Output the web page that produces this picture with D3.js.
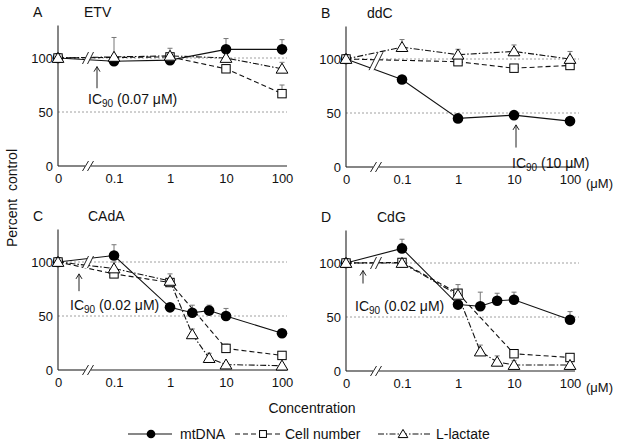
<!DOCTYPE html>
<html><head><meta charset="utf-8">
<script src="https://cdn.jsdelivr.net/npm/d3@7"></script>
<style>
body{margin:0;background:#fff}
text{font-family:"Liberation Sans",Arial,Helvetica,sans-serif;fill:#111}
</style>
</head><body>
<svg id="chart" width="621" height="445"></svg>
<script>
// ---------- data ----------
const xTickValues = [0, 0.1, 1, 10, 100];
const xTickLabels = ["0", "0.1", "1", "10", "100"];
const yTickValues = [0, 50, 100];
const seriesNames = ["mtDNA", "Cell number", "L-lactate"];
const panelLetters = ["A", "B", "C", "D"];
const drugNames = ["ETV", "ddC", "CAdA", "CdG"];
const icLabels = ["(0.07 μM)", "(10 μM)", "(0.02 μM)", "(0.02 μM)"];

// A: ETV
const etvMtConc = [0, 0.1, 1, 10, 100];
const etvMt = [100, 97, 98, 108, 108];
const etvMtErr = [null, null, null, 118, 117];
const etvCellConc = [0, 1, 10, 100];
const etvCell = [100, 101, 90, 67];
const etvCellErr = [null, null, null, 75];
const etvLacConc = [0, 0.1, 1, 10, 100];
const etvLac = [100, 101, 102, 100, 90];
const etvLacErr = [null, 119, 109, null, 96];

// B: ddC
const ddcMtConc = [0, 0.1, 1, 10, 100];
const ddcMt = [100, 81, 45, 48, 42.5];
const ddcMtErr = [null, null, null, null, null];
const ddcCellConc = [0, 1, 10, 100];
const ddcCell = [100, 97.5, 91.5, 94];
const ddcCellErr = [null, null, null, null];
const ddcLacConc = [0, 0.1, 1, 10, 100];
const ddcLac = [100, 111, 104, 107, 100];
const ddcLacErr = [null, 118, 109, 113, 107];

// C: CAdA
const cadaMtConc = [0, 0.1, 1, 2.5, 5, 10, 100];
const cadaMt = [100, 106, 58, 53, 55, 50, 34];
const cadaMtErr = [null, 116, null, 60, 60, 57, null];
const cadaCellConc = [0, 0.1, 1, 10, 100];
const cadaCell = [100, 89, 81, 20, 13.5];
const cadaCellErr = [null, null, null, 24, 17];
const cadaLacConc = [0, 0.1, 1, 2.5, 5, 10, 100];
const cadaLac = [100, 94, 82.5, 33, 11, 5, 4];
const cadaLacErr = [null, 100, 89, 38, 15.5, null, null];

// D: CdG
const cdgMtConc = [0, 0.1, 1, 2.5, 5, 10, 100];
const cdgMt = [100, 113.5, 61.5, 60, 65, 66, 47.5];
const cdgMtErr = [null, 122, null, 73, 72, 73, 55];
const cdgCellConc = [0, 0.1, 1, 10, 100];
const cdgCell = [100, 100.5, 72, 16, 12.5];
const cdgCellErr = [null, null, null, null, null];
const cdgLacConc = [0, 0.1, 1, 2.5, 5, 10, 100];
const cdgLac = [100, 100, 70.5, 18, 8.5, 5.5, 5.5];
const cdgLacErr = [null, null, 80, 24, 14, 9.5, 9];

// ---------- layout ----------
const svg = d3.select("#chart");
const font = '"Liberation Sans",Arial,Helvetica,sans-serif';
const W = 224;        // width from 0 to 100
const axisExt = 229;  // axis line length
const nameOffsets = [26, 21, 30, 31];
const panels = [
  {x0: 58, yb: 166, unit: false, series: [[etvMtConc, etvMt, etvMtErr], [etvCellConc, etvCell, etvCellErr], [etvLacConc, etvLac, etvLacErr]],
   ic: {ax: 39, ay1: 72, ay2: 92, tx: 30, ty: 104}},
  {x0: 346, yb: 167, unit: true, series: [[ddcMtConc, ddcMt, ddcMtErr], [ddcCellConc, ddcCell, ddcCellErr], [ddcLacConc, ddcLac, ddcLacErr]],
   ic: {ax: 170, ay1: 18, ay2: 39, tx: 166, ty: 168}},
  {x0: 58, yb: 370, unit: false, series: [[cadaMtConc, cadaMt, cadaMtErr], [cadaCellConc, cadaCell, cadaCellErr], [cadaLacConc, cadaLac, cadaLacErr]],
   ic: {ax: 21, ay1: 73, ay2: 89, tx: 12, ty: 310}},
  {x0: 346, yb: 371, unit: true, series: [[cdgMtConc, cdgMt, cdgMtErr], [cdgCellConc, cdgCell, cdgCellErr], [cdgLacConc, cdgLac, cdgLacErr]],
   ic: {ax: 17, ay1: 81, ay2: 93, tx: 9, ty: 311}}
];
const dashes = [null, "5,3", "6,2,1.5,2"];

function marker(g, type, cx, cy, scale) {
  const s = scale || 1;
  if (type === 0) {
    g.append("circle").attr("cx", cx).attr("cy", cy).attr("r", 5.3 * s).attr("fill", "#000");
  } else if (type === 1) {
    const h = 4.2 * s;
    g.append("rect").attr("x", cx - h).attr("y", cy - h).attr("width", 2 * h).attr("height", 2 * h)
      .attr("fill", "#fff").attr("stroke", "#000").attr("stroke-width", 1);
  } else {
    const a = 5.6 * s;
    g.append("path").attr("d", `M${cx},${cy - a}L${cx + a * 1.05},${cy + a * 0.78}L${cx - a * 1.05},${cy + a * 0.78}Z`)
      .attr("fill", "#fff").attr("stroke", "#000").attr("stroke-width", 1);
  }
}

panels.forEach((p, i) => {
  const g = svg.append("g");
  const xs = d3.scaleLog().domain([0.01, 100]).range([p.x0, p.x0 + W]);
  const x = c => xs(c === 0 ? 0.01 : c);
  const y = d3.scaleLinear().domain([0, 130]).range([p.yb, p.yb - 140.4]);
  const xBreak = p.x0 + 30;

  // reference dotted lines
  [100, 50].forEach(v => {
    g.append("line").attr("x1", p.x0).attr("x2", p.x0 + axisExt + (p.unit ? 4 : 0))
      .attr("y1", y(v)).attr("y2", y(v))
      .attr("stroke", "#888").attr("stroke-width", 0.8).attr("stroke-dasharray", "2,2");
  });

  // y axis
  const yAxis = d3.axisLeft(y).tickValues(yTickValues).tickSize(0).tickPadding(5).tickFormat(d3.format("d"));
  const ya = g.append("g").attr("transform", `translate(${p.x0},0)`).call(yAxis);
  ya.select(".domain").remove();
  ya.selectAll("text").attr("font-size", 13).attr("font-family", font).attr("fill", "#111");
  g.append("line").attr("x1", p.x0).attr("x2", p.x0).attr("y1", p.yb).attr("y2", y(130))
    .attr("stroke", "#222").attr("stroke-width", 1.1);

  // x axis
  const xAxis = d3.axisBottom(xs).tickValues(xTickValues.map(v => v === 0 ? 0.01 : v)).tickSize(0).tickPadding(8)
    .tickFormat((d, k) => xTickLabels[k]);
  const xa = g.append("g").attr("transform", `translate(0,${p.yb})`).call(xAxis);
  xa.select(".domain").remove();
  xa.selectAll("text").attr("font-size", 13).attr("font-family", font).attr("fill", "#111");
  g.append("line").attr("x1", p.x0).attr("x2", xBreak - 3).attr("y1", p.yb).attr("y2", p.yb)
    .attr("stroke", "#222").attr("stroke-width", 1.1);
  g.append("line").attr("x1", xBreak + 3).attr("x2", p.x0 + axisExt).attr("y1", p.yb).attr("y2", p.yb)
    .attr("stroke", "#222").attr("stroke-width", 1.1);
  [-2.5, 2.5].forEach(o => {
    g.append("line").attr("x1", xBreak + o - 3).attr("y1", p.yb + 5).attr("x2", xBreak + o + 3).attr("y2", p.yb - 5)
      .attr("stroke", "#222").attr("stroke-width", 1);
  });
  if (p.unit) {
    g.append("text").attr("x", x(100) + 16).attr("y", p.yb + 20.5).attr("font-size", 13).text("(μM)");
  }

  // panel letter and drug name
  g.append("text").attr("x", p.x0 - 25).attr("y", p.yb - 149).attr("font-size", 14).text(panelLetters[i]);
  g.append("text").attr("x", p.x0 + nameOffsets[i]).attr("y", p.yb - 149)
    .attr("font-size", 14).text(drugNames[i]);

  // series lines
  const line = d3.line().x(d => x(d.c)).y(d => y(d.v));
  p.series.forEach((s, k) => {
    const pts = s[0].map((c, j) => ({c: c, v: s[1][j]}));
    g.append("path").attr("d", line(pts)).attr("fill", "none").attr("stroke", "#111")
      .attr("stroke-width", 1.1).attr("stroke-dasharray", dashes[k]);
  });

  // break marks on data lines
  const by = y(i === 1 ? 98 : 100);
  const bl = i === 1 ? 9 : 6;
  g.append("path").attr("d", `M${xBreak - 2.5 - bl * 0.5},${by + bl}L${xBreak + 2.5 - bl * 0.5},${by + bl}L${xBreak + 2.5 + bl * 0.5},${by - bl}L${xBreak - 2.5 + bl * 0.5},${by - bl}Z`)
    .attr("fill", "#fff");
  [-2.5, 2.5].forEach(o => {
    g.append("line").attr("x1", xBreak + o - bl * 0.5).attr("y1", by + bl).attr("x2", xBreak + o + bl * 0.5).attr("y2", by - bl)
      .attr("stroke", "#222").attr("stroke-width", 1);
  });

  // error bars
  p.series.forEach((s, k) => {
    s[0].forEach((c, j) => {
      const e = s[2][j];
      if (e == null) return;
      const cx = x(c);
      g.append("line").attr("x1", cx).attr("x2", cx).attr("y1", y(s[1][j])).attr("y2", y(e))
        .attr("stroke", "#777").attr("stroke-width", 1);
      g.append("line").attr("x1", cx - 2.5).attr("x2", cx + 2.5).attr("y1", y(e)).attr("y2", y(e))
        .attr("stroke", "#777").attr("stroke-width", 1);
    });
  });

  // markers (circles, squares, triangles on top)
  p.series.forEach((s, k) => {
    s[0].forEach((c, j) => marker(g, k, x(c), y(s[1][j])));
  });

  // IC90 annotation
  const ax = p.x0 + p.ic.ax;
  const ay1 = y(p.ic.ay1), ay2 = y(p.ic.ay2);
  g.append("line").attr("x1", ax).attr("x2", ax).attr("y1", ay1).attr("y2", ay2).attr("stroke", "#222").attr("stroke-width", 1);
  g.append("path").attr("d", `M${ax - 3},${ay2 + 5}L${ax},${ay2}L${ax + 3},${ay2 + 5}`).attr("fill", "none")
    .attr("stroke", "#222").attr("stroke-width", 1);
  const t = g.append("text").attr("x", p.x0 + p.ic.tx).attr("y", p.ic.ty).attr("font-size", 14);
  t.append("tspan").text("IC");
  t.append("tspan").attr("font-size", 10).attr("dy", 3).text("90");
  t.append("tspan").attr("dy", -3).text(" " + icLabels[i]);
});

// y axis title
svg.append("text").attr("transform", "translate(17,198) rotate(-90)").attr("text-anchor", "middle")
  .attr("font-size", 14).attr("xml:space", "preserve").text("Percent  control");

// x axis title
svg.append("text").attr("x", 312).attr("y", 413).attr("text-anchor", "middle").attr("font-size", 14).text("Concentration");

// legend
const legendItems = [
  {x1: 128, x2: 172, mx: 151, tx: 180},
  {x1: 235, x2: 280, mx: 263, tx: 285},
  {x1: 378, x2: 430, mx: 403, tx: 436}
];
const lg = svg.append("g");
legendItems.forEach((it, k) => {
  lg.append("line").attr("x1", it.x1).attr("x2", it.x2).attr("y1", 434).attr("y2", 434)
    .attr("stroke", "#111").attr("stroke-width", 1.1).attr("stroke-dasharray", dashes[k]);
  marker(lg, k, it.mx, 434, 0.82);
  lg.append("text").attr("x", it.tx).attr("y", 439).attr("font-size", 14).text(seriesNames[k]);
});
</script>
</body></html>
